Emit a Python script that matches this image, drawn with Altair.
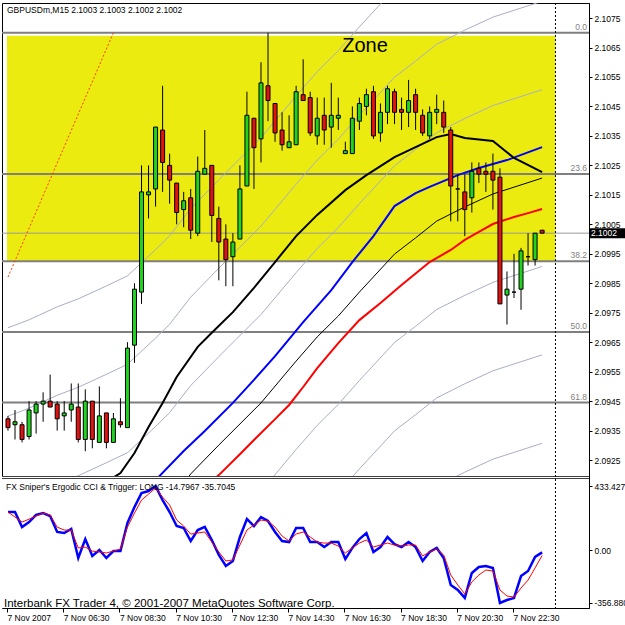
import altair as alt
import pandas as pd

# ---------------- texts ----------------
symbol_title = "GBPUSDm,M15  2.1003 2.1003 2.1002 2.1002"
cci_title = "FX Sniper's Ergodic CCI & Trigger: LONG -14.7967 -35.7045"
copyright_text = "Interbank FX Trader 4, \u00a9 2001-2007 MetaQuotes Software Corp."
zone_text = "Zone"

# ---------------- candles (M15 bars 04:30 .. 23:30, 7 Nov 2007) ----------------
opens = [2.0939, 2.0937, 2.0937, 2.0933, 2.0941, 2.0944, 2.0945, 2.0944, 2.0940, 2.0942,
         2.0943, 2.0932, 2.0945, 2.0931, 2.0941, 2.0931, 2.0938, 2.0936, 2.0964, 2.0982,
         2.1015, 2.1017, 2.1037, 2.1025, 2.1019, 2.1010, 2.1014, 2.1002, 2.1022, 2.1025,
         2.1007, 2.1000, 2.0994, 2.1000, 2.1018, 2.1041, 2.1034, 2.1052, 2.1046, 2.1037,
         2.1031, 2.1032, 2.1049, 2.1048, 2.1035, 2.1042, 2.1038, 2.1041, 2.1029, 2.1029,
         2.1040, 2.1045, 2.1050, 2.1036, 2.1043, 2.1050, 2.1044, 2.1043, 2.1049, 2.1042,
         2.1035, 2.1043, 2.1043, 2.1037, 2.1017, 2.1016, 2.1014, 2.1024, 2.1023, 2.1023,
         2.1021, 2.0981, 2.0982, 2.0983, 2.0994, 2.0993, 2.1003]
highs = [2.0940, 2.0942, 2.0938, 2.0945, 2.0945, 2.0948, 2.0954, 2.0945, 2.0945, 2.0951,
         2.0951, 2.0949, 2.0945, 2.0950, 2.0941, 2.0941, 2.0946, 2.0965, 2.0985, 2.1025,
         2.1025, 2.1038, 2.1052, 2.1029, 2.1019, 2.1016, 2.1017, 2.1028, 2.1037, 2.1025,
         2.1011, 2.1005, 2.1002, 2.1025, 2.1050, 2.1041, 2.1060, 2.1070, 2.1046, 2.1043,
         2.1042, 2.1052, 2.1061, 2.1050, 2.1048, 2.1048, 2.1053, 2.1048, 2.1033, 2.1045,
         2.1048, 2.1051, 2.1052, 2.1046, 2.1052, 2.1051, 2.1048, 2.1054, 2.1051, 2.1044,
         2.1045, 2.1049, 2.1047, 2.1038, 2.1022, 2.1022, 2.1026, 2.1026, 2.1026, 2.1029,
         2.1024, 2.0989, 2.0995, 2.0997, 2.1002, 2.1002, 2.1003]
lows = [2.0935, 2.0932, 2.0931, 2.0932, 2.0934, 2.0938, 2.0943, 2.0935, 2.0935, 2.0938,
        2.0931, 2.0928, 2.0929, 2.0931, 2.0929, 2.0931, 2.0936, 2.0936, 2.0958, 2.0978,
        2.1007, 2.1011, 2.1016, 2.1012, 2.1005, 2.1004, 2.1000, 2.1001, 2.1022, 2.0999,
        2.0986, 2.0984, 2.0984, 2.1000, 2.1018, 2.1017, 2.1026, 2.1040, 2.1033, 2.1030,
        2.1031, 2.1032, 2.1047, 2.1035, 2.1032, 2.1032, 2.1031, 2.1037, 2.1029, 2.1029,
        2.1037, 2.1042, 2.1034, 2.1033, 2.1039, 2.1039, 2.1037, 2.1038, 2.1037, 2.1035,
        2.1034, 2.1039, 2.1036, 2.1006, 2.1006, 2.1001, 2.1009, 2.1019, 2.1016, 2.1010,
        2.0978, 2.0971, 2.0980, 2.0976, 2.0991, 2.0991, 2.1002]
closes = [2.0936, 2.0938, 2.0932, 2.0942, 2.0944, 2.0945, 2.0943, 2.0939, 2.0941, 2.0944,
          2.0932, 2.0945, 2.0932, 2.0940, 2.0931, 2.0939, 2.0937, 2.0963, 2.0983, 2.1016,
          2.1016, 2.1038, 2.1026, 2.1020, 2.1009, 2.1013, 2.1003, 2.1023, 2.1024, 2.1008,
          2.0999, 2.0993, 2.0999, 2.1017, 2.1042, 2.1031, 2.1053, 2.1047, 2.1036, 2.1032,
          2.1033, 2.1050, 2.1047, 2.1036, 2.1041, 2.1037, 2.1042, 2.1042, 2.1030, 2.1041,
          2.1046, 2.1049, 2.1035, 2.1043, 2.1051, 2.1043, 2.1043, 2.1047, 2.1043, 2.1036,
          2.1043, 2.1044, 2.1038, 2.1018, 2.1017, 2.1010, 2.1023, 2.1022, 2.1022, 2.1020,
          2.0978, 2.0983, 2.0982, 2.0996, 2.0994, 2.1002, 2.1002]

# ---------------- moving averages (bar index, price) ----------------
ma_black_bars = [14, 16, 18, 20, 22, 24, 27, 29, 32, 35, 38, 41, 44, 48, 51, 55, 58, 61, 63, 65, 69, 72, 76]
ma_black_vals = [2.09176, 2.09206, 2.09274, 2.09362, 2.09444, 2.09532, 2.09634, 2.09682, 2.09752, 2.09834,
                 2.09922, 2.10010, 2.10082, 2.10166, 2.10217, 2.10278, 2.10312, 2.10346, 2.10356, 2.10343,
                 2.10333, 2.10275, 2.10227]
ma_blue_bars = [20, 21, 25, 28, 32, 35, 38, 42, 46, 49, 52, 55, 58, 60, 64, 67, 71, 76]
ma_blue_vals = [2.09148, 2.09182, 2.09281, 2.09349, 2.09444, 2.09522, 2.09603, 2.09718, 2.09827, 2.09922,
                2.10010, 2.10112, 2.10156, 2.10177, 2.10217, 2.10241, 2.10268, 2.10312]
ma_red_bars = [29, 30, 33, 35, 38, 40, 42, 44, 47, 50, 53, 56, 60, 63, 65, 67, 69, 72, 74, 76]
ma_red_vals = [2.09179, 2.09199, 2.09270, 2.09318, 2.09389, 2.09437, 2.09498, 2.09562, 2.09647, 2.09725,
               2.09783, 2.09844, 2.09922, 2.09963, 2.09997, 2.10024, 2.10051, 2.10075, 2.10088, 2.10102]
ma_thin_bars = [0, 3, 7, 10, 14, 17, 21, 23, 26, 30, 36, 41, 44, 47, 50, 55, 58, 61, 65, 69, 76]
ma_thin_vals = [2.08799, 2.08826, 2.08870, 2.08897, 2.08941, 2.08975, 2.09064, 2.09111, 2.09203, 2.09301,
                2.09444, 2.09586, 2.09668, 2.09739, 2.09820, 2.09949, 2.10004, 2.10061, 2.10109, 2.10153,
                2.10207]
envelope_offsets = [0.0090, 0.0060, 0.0030, -0.0030, -0.0060, -0.0090]

# ---------------- objects ----------------
fib_names = ["0.0", "23.6", "38.2", "50.0", "61.8"]
fib_prices = [2.10700, 2.10221, 2.09925, 2.09685, 2.09445]
zone_high = 2.1069
zone_low = 2.09925
zone_end_bar = 77.9
shift_bar = 77.9
zone_label_bar = 50.8
zone_label_price = 2.10635
trend_bars = [0, 15]
trend_prices = [2.09871, 2.10700]

price_ticks = [2.0925, 2.0935, 2.0945, 2.0955, 2.0965, 2.0975, 2.0985, 2.0995,
               2.1005, 2.1015, 2.1025, 2.1035, 2.1045, 2.1055, 2.1065, 2.1075]

# ---------------- indicator ----------------
cci_vals = [258, 258, 156, 190, 238, 251, 231, 123, 116, 143,
            -53, 75, -39, 1, -53, -6, -6, 184, 292, 386,
            400, 433.4278, 339, 258, 163, 150, 62, 136, 157, 69,
            -32, -107, -73, 89, 211, 163, 224, 197, 123, 62,
            55, 150, 150, 55, 55, 21, 55, 55, -60, 15,
            75, 116, -12, 21, 89, 41, 21, 55, 21, -73,
            -12, 15, -53, -235, -269, -323, -154, -114, -107, -121,
            -356.88, -337, -323, -175, -141, -46, -14.7967]
trigger_vals = [258, 224, 190, 210, 231, 251, 238, 156, 136, 136,
                15, 21, -6, -12, -19, -6, 8, 156, 251, 339,
                379, 420, 359, 305, 204, 163, 109, 116, 123, 55,
                -12, -73, -66, 35, 136, 170, 204, 197, 156, 96,
                62, 109, 123, 89, 55, 48, 48, 28, -19, 15,
                48, 69, 21, 35, 48, 35, 28, 35, 35, -39,
                -12, 8, -33, -168, -235, -296, -215, -168, -134, -141,
                -269, -310, -317, -256, -202, -120, -35.7045]
cci_ticks = [433.4278, 0.0, -356.88]
cci_tick_labels = ["433.4278", "0.00", "-356.880"]

time_label_bars = [0, 8, 16, 24, 32, 40, 48, 56, 64, 72]
time_labels = ["7 Nov 2007", "7 Nov 06:30", "7 Nov 08:30", "7 Nov 10:30", "7 Nov 12:30",
               "7 Nov 14:30", "7 Nov 16:30", "7 Nov 18:30", "7 Nov 20:30", "7 Nov 22:30"]

# ---------------- layout / style ----------------
W = 587            # plot width (canvas x 2 .. 589)
H = 605            # both panels (canvas y 3 .. 608)
TOP_H = 473        # price panel (canvas y 3 .. 476)
BOT_Y0 = 475       # indicator panel top (canvas y 478)
XDOM = [-0.14, 81.96]
YDOM = [2.09196, 2.10801]
CDOM = [-391.0, 488.0]
FONT = "Liberation Sans"
YELLOW = "#EBEB0F"
GREEN = "#1FD31F"
RED = "#E41111"
ENV_GRAY = "#A9AEC6"
TICK_SHIFT = 0.14

xs = alt.Scale(domain=XDOM, nice=False, zero=False)
ys = alt.Scale(domain=YDOM, range=[TOP_H, 0], nice=False, zero=False)
cs = alt.Scale(domain=CDOM, range=[H, BOT_Y0], nice=False, zero=False)

price_axis = alt.Axis(orient="right", values=price_ticks, format=".4f", title=None, tickSize=3,
                      labelPadding=2, labelOverlap=False, labelFlush=False, labelBound=False, grid=False)
cci_expr = "[" + ",".join(f"'{s}'" for s in cci_tick_labels) + "]"
cci_axis = alt.Axis(orient="right", values=cci_ticks, title=None, tickSize=3, labelPadding=2,
                    labelOverlap=False, labelFlush=False, labelBound=False, grid=False,
                    labelExpr=f"{cci_expr}[datum.value > 100 ? 0 : (datum.value < -100 ? 2 : 1)]")
tick_pos = [b - TICK_SHIFT for b in time_label_bars]
time_expr = "[" + ",".join(f"'{s}'" for s in time_labels) + "]"
time_axis = alt.Axis(orient="bottom", values=tick_pos, title=None, tickSize=4, labelPadding=1,
                     labelAlign="left", labelOverlap=False, labelFlush=False, labelBound=False,
                     grid=False, domain=False,
                     labelExpr=f"{time_expr}[round((datum.value + {TICK_SHIFT}) / 8)]")


def XE(field="i"):
    return alt.X(f"{field}:Q", scale=xs, axis=time_axis)


def YT(field="p"):
    return alt.Y(f"{field}:Q", scale=ys, axis=price_axis)


def YB(field):
    return alt.Y(f"{field}:Q", scale=cs, axis=cci_axis)


n = len(opens)
bars = list(range(n))
candles = pd.DataFrame({"i": bars, "open": opens, "high": highs, "low": lows, "close": closes})
candles["dir"] = ["up" if c > o else ("down" if c < o else "flat") for o, c in zip(opens, closes)]
one = pd.DataFrame({"a": [0]})

# ---------------- price panel ----------------
zone = alt.Chart(pd.DataFrame({"x1": [XDOM[0]], "x2": [zone_end_bar], "y1": [zone_low], "y2": [zone_high]})
                 ).mark_rect(color=YELLOW).encode(x=XE("x1"), x2="x2:Q", y=YT("y1"), y2="y2:Q")

fib_df = pd.DataFrame({"level": fib_names, "p": fib_prices})
fib_rules = alt.Chart(fib_df).mark_rule(color="#7F7F7F", strokeWidth=2).encode(y=YT())
fib_text = alt.Chart(fib_df).mark_text(align="right", baseline="alphabetic", dy=-3, color="#7F7F7F",
                                       fontSize=8.5, font=FONT).encode(x=alt.value(585), y=YT(), text="level:N")

last_df = pd.DataFrame({"p": [closes[-1]], "label": [f"{closes[-1]:.4f}"]})
price_line = alt.Chart(last_df).mark_rule(color="#9A9A9A", strokeWidth=1).encode(y=YT())

env_rows = []
for k in envelope_offsets:
    for b, v in zip(ma_thin_bars, ma_thin_vals):
        env_rows.append({"i": b, "p": v + k, "k": k})
env_df = pd.DataFrame(env_rows)
envelopes = alt.Chart(env_df).mark_line(color=ENV_GRAY, strokeWidth=1, clip=True).encode(
    x=XE(), y=YT(), detail="k:N")


def ma_layer(bars_, vals_, color, width):
    df = pd.DataFrame({"i": bars_, "p": vals_})
    return alt.Chart(df).mark_line(color=color, strokeWidth=width, clip=True).encode(x=XE(), y=YT())


ma_thin = ma_layer(ma_thin_bars, ma_thin_vals, "black", 1)
ma_red = ma_layer(ma_red_bars, ma_red_vals, "#FF0000", 2)
ma_blue = ma_layer(ma_blue_bars, ma_blue_vals, "#0000FF", 2)
ma_black = ma_layer(ma_black_bars, ma_black_vals, "black", 2)

trend = alt.Chart(pd.DataFrame({"i": trend_bars, "p": trend_prices})).mark_line(
    color="#FF3300", strokeWidth=1, strokeDash=[2, 2], clip=True).encode(x=XE(), y=YT())

wicks = alt.Chart(candles).mark_rule(color="black", strokeWidth=1).encode(x=XE(), y=YT("low"), y2="high:Q")
bodies = alt.Chart(candles).mark_bar(size=4, stroke="black", strokeWidth=1).encode(
    x=XE(), y=YT("open"), y2="close:Q",
    color=alt.Color("dir:N", scale=alt.Scale(domain=["up", "down", "flat"], range=[GREEN, RED, "black"]),
                    legend=None))

zone_lbl = alt.Chart(pd.DataFrame({"i": [zone_label_bar], "p": [zone_label_price], "t": [zone_text]})
                     ).mark_text(align="center", baseline="alphabetic", fontSize=20, font=FONT,
                                 color="black").encode(x=XE(), y=YT(), text="t:N")

tag_box = alt.Chart(last_df).mark_tick(orient="horizontal", size=36, thickness=10, color="black",
                                       opacity=1).encode(x=alt.value(605), y=YT())
tag_text = alt.Chart(last_df).mark_text(align="left", baseline="middle", color="white", fontSize=8.5,
                                        font=FONT).encode(x=alt.value(589), y=YT(), text="label:N")

title_top = alt.Chart(pd.DataFrame({"t": [symbol_title]})).mark_text(
    align="left", baseline="alphabetic", fontSize=8.5, font=FONT, color="black").encode(
    x=alt.value(5), y=alt.value(9.5), text="t:N")

price_panel = alt.layer(zone, fib_rules, price_line, envelopes, ma_thin, ma_red, ma_blue, ma_black, trend,
                        wicks, bodies, fib_text, zone_lbl, tag_box, tag_text, title_top)

# ---------------- panel separation ----------------
cover = alt.Chart(one).mark_rect(color="white").encode(
    x=alt.value(0), x2=alt.value(W), y=alt.value(TOP_H), y2=alt.value(H))
sep1 = alt.Chart(one).mark_rule(color="#404040", strokeWidth=1).encode(
    x=alt.value(0), x2=alt.value(W), y=alt.value(TOP_H + 0.5))
sep2 = alt.Chart(one).mark_rule(color="#404040", strokeWidth=1).encode(
    x=alt.value(0), x2=alt.value(W), y=alt.value(BOT_Y0 + 0.5))
vline = alt.Chart(pd.DataFrame({"i": [shift_bar]})).mark_rule(
    color="black", strokeDash=[2, 2], strokeWidth=1).encode(x=XE())
separators = alt.layer(cover, sep1, sep2, vline)

# ---------------- indicator panel ----------------
cci_df = pd.DataFrame({"i": bars, "cci": cci_vals, "trig": trigger_vals})
cci_line = alt.Chart(cci_df).mark_line(color="#0000FF", strokeWidth=2.5).encode(x=XE(), y=YB("cci"))
trig_line = alt.Chart(cci_df).mark_line(color="#FF0000", strokeWidth=1).encode(x=XE(), y=YB("trig"))
title_bot = alt.Chart(pd.DataFrame({"t": [cci_title]})).mark_text(
    align="left", baseline="alphabetic", fontSize=8.5, font=FONT, color="black").encode(
    x=alt.value(4), y=alt.value(486.5), text="t:N")
copy_txt = alt.Chart(pd.DataFrame({"t": [copyright_text]})).mark_text(
    align="left", baseline="alphabetic", fontSize=11.5, font=FONT, color="black").encode(
    x=alt.value(2), y=alt.value(604), text="t:N")

cci_panel = alt.layer(cci_line, trig_line, title_bot, copy_txt)

chart = alt.layer(price_panel, separators, cci_panel).resolve_scale(y="independent").properties(
    width=W, height=H,
    autosize=alt.AutoSizeParams(type="none"),
    padding={"left": 2, "top": 3, "right": 36, "bottom": 17},
    background="white",
).configure_view(stroke="black", strokeWidth=1).configure_axis(
    labelFont=FONT, labelFontSize=8.5, labelColor="black", domainColor="black", tickColor="black"
)

chart.save("out.html", embed_options={"renderer": "svg", "actions": False})
